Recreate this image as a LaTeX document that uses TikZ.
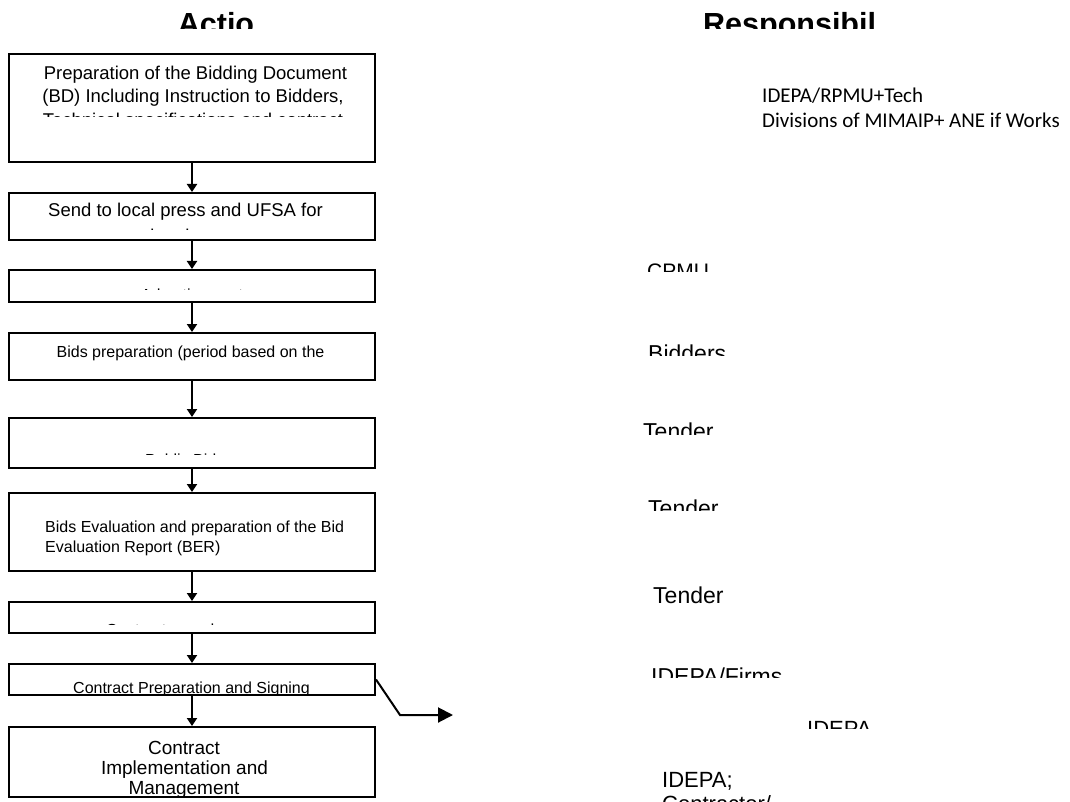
\documentclass[tikz,border=0pt]{standalone}
\usepackage{fontspec}
\setmainfont{Liberation Sans}
\newfontfamily\carlitofont{Carlito}
\usetikzlibrary{arrows.meta}

\begin{document}
\begin{tikzpicture}[x=1pt,y=-1pt,
  stagebox/.style={draw, line width=2pt, inner sep=0pt, minimum width=366pt},
  flow/.style={line width=2pt, -{Triangle[width=10pt,length=8pt]}},
  bigflow/.style={line width=2pt, -{Triangle[width=15pt,length=15pt]}},
  txt/.style={inner sep=0pt, anchor=base, font=\fontsize{#1}{#1}\selectfont},
  txtl/.style={inner sep=0pt, anchor=base west, font=\fontsize{#1}{#1}\selectfont},
  head/.style={inner sep=0pt, anchor=base, font=\fontsize{30.5}{31}\selectfont\bfseries},
  calib/.style={inner sep=0pt, anchor=base west, font=\carlitofont\fontsize{21}{21}\selectfont}
]
\useasboundingbox (0,0) rectangle (1070,802);

% column headings, cut off at the bottom
\begin{scope}
  \clip (0,0) rectangle (1070,29);
  \node[head] (hAction) at (216,34.8) {Actio};
  \node[head, anchor=base west] (hResp) at (703,34.8) {Responsibil};
\end{scope}

% process boxes
\node[stagebox, minimum height=108pt] (b1) at (192,108) {};
\node[stagebox, minimum height=47pt]  (b2) at (192,216.5) {};
\node[stagebox, minimum height=32pt]  (b3) at (192,286) {};
\node[stagebox, minimum height=47pt]  (b4) at (192,356.5) {};
\node[stagebox, minimum height=50pt]  (b5) at (192,443) {};
\node[stagebox, minimum height=78pt]  (b6) at (192,532) {};
\node[stagebox, minimum height=31pt]  (b7) at (192,617.5) {};
\node[stagebox, minimum height=31pt]  (b8) at (192,679.5) {};
\node[stagebox, minimum height=70pt]  (b9) at (192,762) {};

% box texts, each cut to its own frame
\begin{scope}
  \clip (9,54) rectangle (375,117);
  \node[txt=18.5] (t1a) at (195.5,80) {Preparation of the Bidding Document};
  \node[txt=18.5] (t1b) at (193,103) {(BD) Including Instruction to Bidders,};
  \node[txt=18.5] (t1c) at (193,127) {Technical specifications and contract};
\end{scope}
\begin{scope}
  \clip (9,193) rectangle (375,229.5);
  \node[txt=18.5] (t2a) at (185.5,217) {Send to local press and UFSA for};
  \node[txt=18.5] (t2b) at (192,243) {advertisement};
\end{scope}
\begin{scope}
  \clip (9,270) rectangle (375,289.5);
  \node[txt=16] (t3) at (192,300.5) {Advertisement};
\end{scope}
\node[txt=16] (t4) at (190.5,357) {Bids preparation (period based on the};
\begin{scope}
  \clip (9,418) rectangle (375,454);
  \node[txtl=16] (t5) at (145,465.5) {Public Bid};
\end{scope}
\node[txtl=16] (t6a) at (45,532) {Bids Evaluation and preparation of the Bid};
\node[txtl=16] (t6b) at (45,552) {Evaluation Report (BER)};
\begin{scope}
  \clip (9,602) rectangle (375,624);
  \node[txt=16] (t7) at (160,635.5) {Contract award};
\end{scope}
\begin{scope}
  \clip (9,664) rectangle (375,695);
  \node[txt=16] (t8) at (191.5,693) {Contract Preparation and Signing};
\end{scope}
\begin{scope}
  \clip (9,727) rectangle (375,797);
  \node[txt=19] (t9a) at (184,754) {Contract};
  \node[txt=19] (t9b) at (184.5,774) {Implementation and};
  \node[txt=19] (t9c) at (184,794.5) {Management};
\end{scope}

% connectors
\draw[flow] (b1) -- (b2);
\draw[flow] (b2) -- (b3);
\draw[flow] (b3) -- (b4);
\draw[flow] (b4) -- (b5);
\draw[flow] (b5) -- (b6);
\draw[flow] (b6) -- (b7);
\draw[flow] (b7) -- (b8);
\draw[flow] (b8) -- (b9);
\coordinate (out) at (453,715);
\draw[bigflow] (b8.east) -- (400,715) -- (out);

% responsibilities
\node[calib] (r1a) at (762,103) {IDEPA/RPMU+Tech};
\node[calib] (r1b) at (762,128) {Divisions of MIMAIP+ ANE if Works};
\begin{scope}
  \clip (600,250) rectangle (1070,271);
  \node[txtl=21] (r2) at (647,279) {CPMU};
\end{scope}
\begin{scope}
  \clip (600,330) rectangle (1070,355);
  \node[txtl=23] (r3) at (648,361.5) {Bidders};
\end{scope}
\begin{scope}
  \clip (600,410) rectangle (1070,434);
  \node[txtl=23] (r4) at (643,439.5) {Tender};
\end{scope}
\begin{scope}
  \clip (600,490) rectangle (1070,510);
  \node[txtl=23] (r5) at (648,516.5) {Tender};
\end{scope}
\node[txtl=23] (r6) at (653,603) {Tender};
\begin{scope}
  \clip (600,655) rectangle (1070,677);
  \node[txtl=23] (r7) at (651,684.5) {IDEPA/Firms};
\end{scope}
\begin{scope}
  \clip (700,705) rectangle (1070,728);
  \node[txtl=22] (r8) at (807,736.5) {IDEPA};
\end{scope}
\begin{scope}
  \clip (600,750) rectangle (1070,801);
  \node[txtl=22] (r9a) at (662,787) {IDEPA;};
  \node[txtl=22] (r9b) at (662,811.5) {Contractor/};
\end{scope}
\end{tikzpicture}
\end{document}
